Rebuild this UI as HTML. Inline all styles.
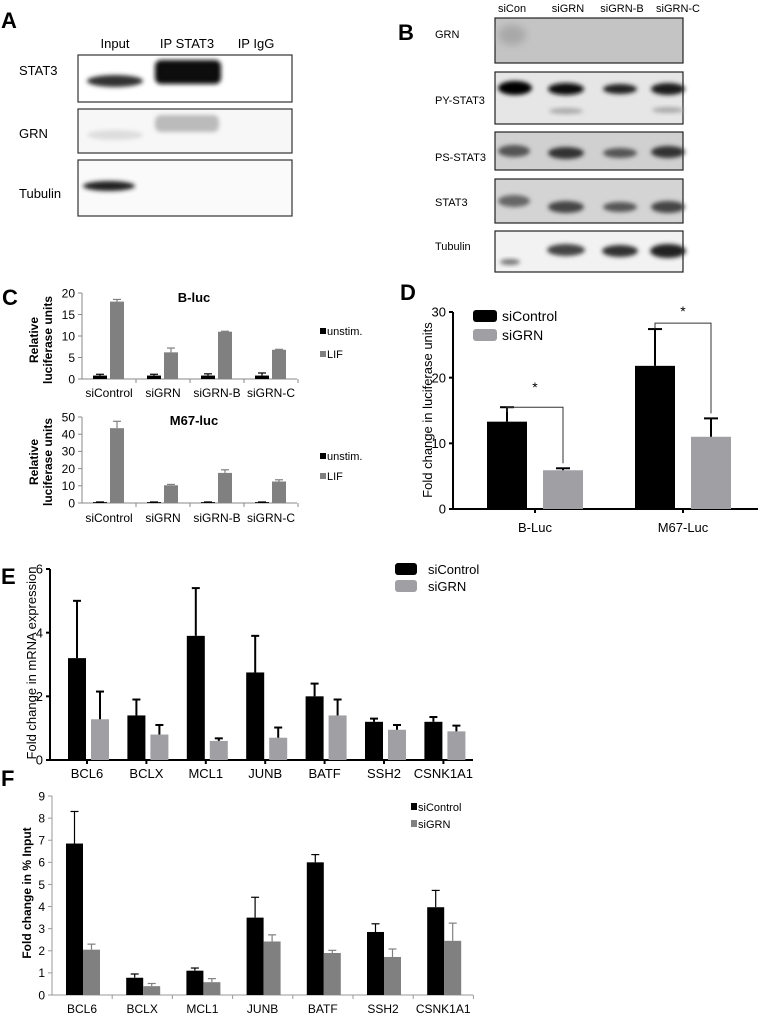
<!DOCTYPE html>
<html><head><meta charset="utf-8">
<style>
html,body{margin:0;padding:0;background:#fff;}
svg{display:block;font-family:"Liberation Sans",Arial,sans-serif;}
</style></head>
<body>
<svg id="fig" width="762" height="1015" viewBox="0 0 762 1015" xmlns="http://www.w3.org/2000/svg">
<defs>
<filter id="bl" x="-20%" y="-50%" width="140%" height="200%"><feGaussianBlur stdDeviation="2.2"/></filter>
<filter id="bl2" x="-20%" y="-50%" width="140%" height="200%"><feGaussianBlur stdDeviation="4"/></filter>
</defs>
<!-- Panel A -->
<g>
<text x="1" y="28" font-size="22" font-weight="bold">A</text>
<text x="115" y="48" font-size="13" text-anchor="middle">Input</text>
<text x="187" y="48" font-size="13" text-anchor="middle">IP STAT3</text>
<text x="256" y="48" font-size="13" text-anchor="middle">IP IgG</text>
<text x="19" y="75" font-size="13">STAT3</text>
<text x="19" y="138" font-size="13">GRN</text>
<text x="19" y="198" font-size="13">Tubulin</text>
<g>
<rect x="78" y="55" width="214" height="47" fill="#fff" stroke="#333" stroke-width="1.2"/>
<ellipse cx="115" cy="81" rx="28" ry="6" fill="#333" filter="url(#bl)"/>
<rect x="155" y="60" width="66" height="24" rx="6" fill="#080808" filter="url(#bl)"/>
</g>
<g>
<rect x="78" y="109" width="214" height="44" fill="#f7f7f7" stroke="#333" stroke-width="1.2"/>
<ellipse cx="115" cy="135" rx="28" ry="5" fill="#ddd" filter="url(#bl)"/>
<rect x="155" y="115" width="64" height="17" rx="6" fill="#bbb" filter="url(#bl)"/>
</g>
<g>
<rect x="78" y="160" width="214" height="56" fill="#fafafa" stroke="#333" stroke-width="1.2"/>
<ellipse cx="109" cy="186" rx="26" ry="5" fill="#222" filter="url(#bl)"/>
</g>
</g>
<!-- Panel B -->
<g>
<text x="398" y="40" font-size="22" font-weight="bold">B</text>
<text x="512" y="12" font-size="11" text-anchor="middle">siCon</text>
<text x="568" y="12" font-size="11" text-anchor="middle">siGRN</text>
<text x="622" y="12" font-size="11" text-anchor="middle">siGRN-B</text>
<text x="678" y="12" font-size="11" text-anchor="middle">siGRN-C</text>
<text x="435" y="38" font-size="11">GRN</text>
<text x="435" y="104" font-size="11">PY-STAT3</text>
<text x="435" y="161" font-size="11">PS-STAT3</text>
<text x="435" y="206" font-size="11">STAT3</text>
<text x="435" y="250" font-size="11">Tubulin</text>
<g>
<rect x="495" y="18" width="188" height="45" fill="#c4c4c4" stroke="#222" stroke-width="1.2"/>
<ellipse cx="512" cy="35" rx="14" ry="10" fill="#a8a8a8" filter="url(#bl2)"/>
</g>
<g>
<rect x="495" y="72" width="188" height="52" fill="#e6e6e6" stroke="#222" stroke-width="1.2"/>
<ellipse cx="515" cy="88" rx="17" ry="7" fill="#000" filter="url(#bl)"/>
<ellipse cx="566" cy="89" rx="18" ry="6" fill="#111" filter="url(#bl)"/>
<ellipse cx="620" cy="89" rx="17" ry="5" fill="#222" filter="url(#bl)"/>
<ellipse cx="668" cy="89" rx="17" ry="6" fill="#1a1a1a" filter="url(#bl)"/>
<ellipse cx="566" cy="111" rx="17" ry="3" fill="#aaa" filter="url(#bl)"/>
<ellipse cx="668" cy="110" rx="16" ry="3" fill="#aaa" filter="url(#bl)"/>
</g>
<g>
<rect x="495" y="132" width="188" height="38" fill="#d0d0d0" stroke="#222" stroke-width="1.2"/>
<ellipse cx="514" cy="151" rx="16" ry="6" fill="#555" filter="url(#bl)"/>
<ellipse cx="566" cy="153" rx="18" ry="6" fill="#333" filter="url(#bl)"/>
<ellipse cx="620" cy="153" rx="17" ry="5" fill="#555" filter="url(#bl)"/>
<ellipse cx="668" cy="152" rx="17" ry="6" fill="#333" filter="url(#bl)"/>
</g>
<g>
<rect x="495" y="179" width="188" height="44" fill="#d4d4d4" stroke="#222" stroke-width="1.2"/>
<ellipse cx="514" cy="201" rx="16" ry="6" fill="#666" filter="url(#bl)"/>
<ellipse cx="566" cy="207" rx="18" ry="6" fill="#444" filter="url(#bl)"/>
<ellipse cx="620" cy="207" rx="17" ry="5" fill="#555" filter="url(#bl)"/>
<ellipse cx="668" cy="207" rx="17" ry="6" fill="#444" filter="url(#bl)"/>
</g>
<g>
<rect x="495" y="231" width="188" height="41" fill="#f2f2f2" stroke="#222" stroke-width="1.2"/>
<ellipse cx="566" cy="250" rx="19" ry="6" fill="#444" filter="url(#bl)"/>
<ellipse cx="620" cy="251" rx="18" ry="6" fill="#333" filter="url(#bl)"/>
<ellipse cx="668" cy="251" rx="18" ry="7" fill="#222" filter="url(#bl)"/>
<ellipse cx="510" cy="262" rx="10" ry="3" fill="#777" filter="url(#bl)"/>
</g>
</g>
<text x="2" y="305" font-size="22" font-weight="bold">C</text>
<text x="400" y="300" font-size="22" font-weight="bold">D</text>
<text x="1" y="584" font-size="22" font-weight="bold">E</text>
<text x="1" y="786" font-size="22" font-weight="bold">F</text>
<g id="charts"></g>
</svg>
<script>
// ---- Chart data ----
const cCats = ["siControl","siGRN","siGRN-B","siGRN-C"];
const bUnstim = [0.8,0.8,0.8,0.8];
const bUnstimErr = [1.1,1.1,1.2,1.4];
const bLif = [18,6.2,11,6.8];
const bLifErr = [18.5,7.2,11.1,6.9];
const bTicks = [0,5,10,15,20];
const mUnstim = [0.5,0.5,0.5,0.5];
const mUnstimErr = [0.6,0.6,0.6,0.6];
const mLif = [43.5,10.3,17.5,12.5];
const mLifErr = [47.5,10.8,19.3,13.5];
const mTicks = [0,10,20,30,40,50];
const dCats = ["B-Luc","M67-Luc"];
const dControl = [13.3,21.8];
const dControlErr = [15.5,27.4];
const dGrn = [5.9,11.0];
const dGrnErr = [6.2,13.8];
const dTicks = [0,10,20,30];
const geneCats = ["BCL6","BCLX","MCL1","JUNB","BATF","SSH2","CSNK1A1"];
const eControl = [3.2,1.4,3.9,2.75,2.0,1.2,1.2];
const eControlErr = [5.0,1.9,5.4,3.9,2.4,1.3,1.35];
const eGrn = [1.28,0.8,0.6,0.7,1.4,0.95,0.9];
const eGrnErr = [2.15,1.1,0.68,1.02,1.9,1.1,1.08];
const eTicks = [0,2,4,6];
const fControl = [6.85,0.78,1.1,3.5,6.0,2.85,3.97];
const fControlErr = [8.3,0.95,1.22,4.42,6.35,3.22,4.73];
const fGrn = [2.05,0.4,0.58,2.42,1.9,1.72,2.45];
const fGrnErr = [2.3,0.52,0.74,2.72,2.02,2.08,3.25];
const fTicks = [0,1,2,3,4,5,6,7,8,9];

const NS="http://www.w3.org/2000/svg";
const root=document.getElementById('charts');
function mk(tag,attrs,parent,txt){const e=document.createElementNS(NS,tag);for(const k in attrs)e.setAttribute(k,attrs[k]);if(txt!==undefined)e.textContent=txt;(parent||root).appendChild(e);return e;}

function chart(o){
  const g=mk('g',{});
  
  
  const y=v=>o.y0-(v/o.max)*(o.y0-o.yTop);
  const cx=i=>o.c0+i*o.step;
  // axes
  const ax=mk('line',{x1:o.ax,y1:o.yTop,x2:o.ax,y2:o.y0,stroke:o.axc,'stroke-width':o.aw},g);
  
  
  const xx=mk('line',{x1:o.ax,y1:o.y0,x2:o.xEnd,y2:o.y0,stroke:o.axc,'stroke-width':o.aw},g);
  
  
  o.ticks.forEach(t=>{
    mk('line',{x1:o.ax-4,y1:y(t),x2:o.ax,y2:y(t),stroke:o.axc,'stroke-width':o.aw},g);
    const tl=mk('text',{x:o.ax-7,y:y(t)+o.fs*0.36,'font-size':o.fs,'text-anchor':'end'},g,String(t));
    
    
  });
  o.cats.forEach((c,i)=>{
    const tx=o.sepTicks?o.ax+(i+1)*o.step:cx(i);
    mk('line',{x1:tx,y1:o.y0,x2:tx,y2:o.y0+4,stroke:o.axc,'stroke-width':o.aw},g);
    const cl=mk('text',{x:cx(i),y:o.labY,'font-size':o.fs,'text-anchor':'middle'},g,c);
    
    
  });
  o.series.forEach(s=>{
    s.vals.forEach((v,i)=>{
      const x=cx(i)+s.off;
      const r=mk('rect',{x:x,y:y(v),width:o.bw,height:o.y0-y(v),fill:s.color},g);
      
      
      const mx=x+o.bw/2, ey=y(s.err[i]);
      const el=mk('line',{x1:mx,y1:y(v),x2:mx,y2:ey,stroke:o.errc||s.color,'stroke-width':o.ew},g);
      
      
      mk('line',{x1:mx-o.cap,y1:ey,x2:mx+o.cap,y2:ey,stroke:o.errc||s.color,'stroke-width':o.ew},g);
    });
  });
  return g;
}
function txt(x,y,s,attrs,name){const t=mk('text',Object.assign({x:x,y:y},attrs),root,s);return t;}
function legRect(x,y,w,h,c,name,rx){const r=mk('rect',{x:x,y:y,width:w,height:h,fill:c,rx:rx||0});}

// C top
chart({name:'chart-c-bluc',ax:82,xEnd:297,yTop:293,y0:379,max:20,ticks:bTicks,cats:cCats,c0:109,step:54,sepTicks:true,fs:12,labY:397,bw:14,ew:1.2,cap:4,axc:'#888',aw:1,
  series:[{key:'unstim',vals:bUnstim,err:bUnstimErr,color:'#000',off:-16},{key:'lif',vals:bLif,err:bLifErr,color:'#808080',off:1}]});
txt(194,302,'B-luc',{'font-size':13,'font-weight':'bold','text-anchor':'middle'},'chart-c-bluc-title');
legRect(320,328,6,6,'#000','legend-unstim-swatch');txt(327,335,'unstim.',{'font-size':11},'legend-unstim');
legRect(320,351,6,6,'#808080','legend-lif-swatch');txt(327,358,'LIF',{'font-size':11},'legend-lif');
txt(38,340,'Relative',{'font-size':12,'font-weight':'bold','text-anchor':'middle',transform:'rotate(-90 38 340)'},'y-axis-title-c1');
txt(52,340,'luciferase units',{'font-size':12,'font-weight':'bold','text-anchor':'middle',transform:'rotate(-90 52 340)'},'y-axis-title-c1b');
// C bottom
chart({name:'chart-c-m67luc',ax:82,xEnd:297,yTop:417,y0:503,max:50,ticks:mTicks,cats:cCats,c0:109,step:54,sepTicks:true,fs:12,labY:522,bw:14,ew:1.2,cap:4,axc:'#888',aw:1,
  series:[{key:'unstim',vals:mUnstim,err:mUnstimErr,color:'#000',off:-16},{key:'lif',vals:mLif,err:mLifErr,color:'#808080',off:1}]});
txt(194,425,'M67-luc',{'font-size':13,'font-weight':'bold','text-anchor':'middle'},'chart-c-m67-title');
legRect(320,453,6,6,'#000','legend-unstim2-swatch');txt(327,460,'unstim.',{'font-size':11},'legend-unstim-2');
legRect(320,473,6,6,'#808080','legend-lif2-swatch');txt(327,480,'LIF',{'font-size':11},'legend-lif-2');
txt(38,462,'Relative',{'font-size':12,'font-weight':'bold','text-anchor':'middle',transform:'rotate(-90 38 462)'},'y-axis-title-c2');
txt(52,462,'luciferase units',{'font-size':12,'font-weight':'bold','text-anchor':'middle',transform:'rotate(-90 52 462)'},'y-axis-title-c2b');

// D
chart({name:'chart-d',ax:453,xEnd:758,yTop:312,y0:509,max:30,ticks:dTicks,cats:dCats,c0:535,step:148,fs:13,labY:532,bw:40,ew:2,cap:7,axc:'#000',aw:2,errc:'#000',
  series:[{key:'sicontrol',vals:dControl,err:dControlErr,color:'#000',off:-48},{key:'sigrn',vals:dGrn,err:dGrnErr,color:'#a0a0a4',off:8}]});
(function(){
  const y=v=>509-(v/30)*(509-312);
  const br=(x1,x2,yl,yTopV,yr,name)=>{const p=mk('path',{d:`M${x1},${yl} L${x1},${yTopV} L${x2},${yTopV} L${x2},${yr}`,fill:'none',stroke:'#333','stroke-width':1});};
  br(507,563,y(dControlErr[0])+5,y(dControlErr[0]),y(dGrnErr[0])-5,'significance-bracket-bluc');
  txt(535,392,'*',{'font-size':14,'text-anchor':'middle'},'significance-star-bluc');
  br(655,711,y(dControlErr[1])-1,y(dControlErr[1])-6,y(dGrnErr[1])-5,'significance-bracket-m67');
  txt(683,316,'*',{'font-size':14,'text-anchor':'middle'},'significance-star-m67');
})();
legRect(473,310,24,12,'#000','legend-d-sicontrol-swatch',3);txt(502,321,'siControl',{'font-size':14},'legend-d-sicontrol');
legRect(473,329,24,12,'#a0a0a4','legend-d-sigrn-swatch',3);txt(502,340,'siGRN',{'font-size':14},'legend-d-sigrn');
txt(432,410,'Fold change in luciferase units',{'font-size':13,'text-anchor':'middle',transform:'rotate(-90 432 410)'},'y-axis-title-d');

// E
chart({name:'chart-e',ax:50,xEnd:473,yTop:569,y0:760,max:6,ticks:eTicks,cats:geneCats,c0:87,step:59.4,fs:13,labY:778,bw:18,ew:2,cap:4,axc:'#000',aw:2,errc:'#000',
  series:[{key:'sicontrol',vals:eControl,err:eControlErr,color:'#000',off:-19},{key:'sigrn',vals:eGrn,err:eGrnErr,color:'#a0a0a4',off:4}]});
legRect(395,563,22,12,'#000','legend-e-sicontrol-swatch',3);txt(428,574,'siControl',{'font-size':13},'legend-e-sicontrol');
legRect(395,580,22,12,'#a0a0a4','legend-e-sigrn-swatch',3);txt(428,591,'siGRN',{'font-size':13},'legend-e-sigrn');
txt(36,663,'Fold  change in mRNA expression',{'font-size':13,'text-anchor':'middle',transform:'rotate(-90 36 663)'},'y-axis-title-e');

// F
chart({name:'chart-f',ax:52,xEnd:473,yTop:796,y0:995,max:9,ticks:fTicks,cats:geneCats,c0:82,step:60.2,sepTicks:true,fs:12,labY:1013,bw:17,ew:1.2,cap:4,axc:'#999',aw:1,
  series:[{key:'sicontrol',vals:fControl,err:fControlErr,color:'#000',off:-16},{key:'sigrn',vals:fGrn,err:fGrnErr,color:'#808080',off:1}]});
legRect(411,803,6,7,'#000','legend-f-sicontrol-swatch');txt(418,811,'siControl',{'font-size':11},'legend-f-sicontrol');
legRect(411,820,6,7,'#808080','legend-f-sigrn-swatch');txt(418,828,'siGRN',{'font-size':11},'legend-f-sigrn');
txt(31,893,'Fold change in % Input',{'font-size':12,'font-weight':'bold','text-anchor':'middle',transform:'rotate(-90 31 893)'},'y-axis-title-f');
</script>
</body></html>
